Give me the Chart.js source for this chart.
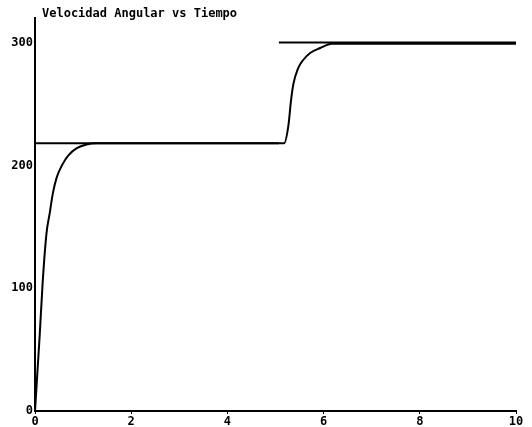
<!DOCTYPE html>
<html lang="es">
<head>
  <meta charset="UTF-8" />
  <title>Velocidad Angular vs Tiempo</title>
  <script src="https://cdn.jsdelivr.net/npm/chart.js"></script>
  <style>
    html, body { margin: 0; padding: 0; background: #fff; }
    #wrap { width: 532px; height: 427px; }
  </style>
</head>
<body>
  <div id="wrap"><canvas id="chart" width="532" height="427"></canvas></div>
  <script>
    const title = "Velocidad Angular vs Tiempo";
    const xTicks = [0, 2, 4, 6, 8, 10];
    const yTicks = [0, 100, 200, 300];

    // respuesta (velocidad angular)
    const tiempo = [0, 0.098, 0.16, 0.24, 0.31, 0.37, 0.45, 0.56, 0.69, 0.87, 1.07, 1.28, 5.18, 5.27, 5.32, 5.37, 5.47, 5.58, 5.72, 5.93, 6.17, 10];
    const omega  = [0, 62, 105, 145, 162, 177, 190, 200, 208, 214, 217, 218, 218, 233, 252, 266, 279, 286, 291.5, 295.6, 299, 299];

    // referencia (escalon)
    const refTiempo = [0, 5.07, 5.07, 5.07, 10];
    const refOmega  = [218, 218, null, 300, 300];

    const font = { family: "'DejaVu Sans Mono', monospace", size: 12, weight: 'bold' };

    const titlePlugin = {
      id: 'oldTitle',
      afterDraw(chart) {
        const c = chart.ctx;
        c.save();
        c.fillStyle = '#000';
        c.font = "bold 12px 'DejaVu Sans Mono', monospace";
        c.textBaseline = 'alphabetic';
        c.fillText(title, 42, 17);
        c.restore();
      }
    };

    new Chart(document.getElementById('chart'), {
      type: 'line',
      data: {
        datasets: [
          {
            label: 'Referencia',
            data: refTiempo.map((t, i) => ({ x: t, y: refOmega[i] })),
            borderColor: '#000',
            borderWidth: 2,
            pointRadius: 0,
            spanGaps: false,
            tension: 0
          },
          {
            label: 'Velocidad',
            data: tiempo.map((t, i) => ({ x: t, y: omega[i] })),
            borderColor: '#000',
            borderWidth: 2,
            pointRadius: 0,
            cubicInterpolationMode: 'monotone'
          }
        ]
      },
      options: {
        responsive: false,
        animation: false,
        layout: { padding: { top: 18, right: 16, left: 0, bottom: 0 } },
        plugins: {
          legend: { display: false },
          title: { display: false },
          tooltip: { enabled: false }
        },
        scales: {
          x: {
            type: 'linear',
            min: 0,
            max: 10,
            afterBuildTicks: s => { s.ticks = xTicks.map(v => ({ value: v })); },
            afterFit: s => { s.height = 16; },
            border: { color: '#000', width: 2 },
            grid: { drawOnChartArea: false, drawTicks: true, tickLength: 3, color: '#000' },
            ticks: { color: '#000', font: font, padding: 1, maxRotation: 0 }
          },
          y: {
            type: 'linear',
            min: 0,
            max: 320,
            afterBuildTicks: s => { s.ticks = yTicks.map(v => ({ value: v })); },
            afterFit: s => { s.width = 35; },
            border: { color: '#000', width: 2 },
            grid: { drawOnChartArea: false, drawTicks: false },
            ticks: { color: '#000', font: font, padding: 2 }
          }
        }
      },
      plugins: [titlePlugin]
    });
  </script>
</body>
</html>
